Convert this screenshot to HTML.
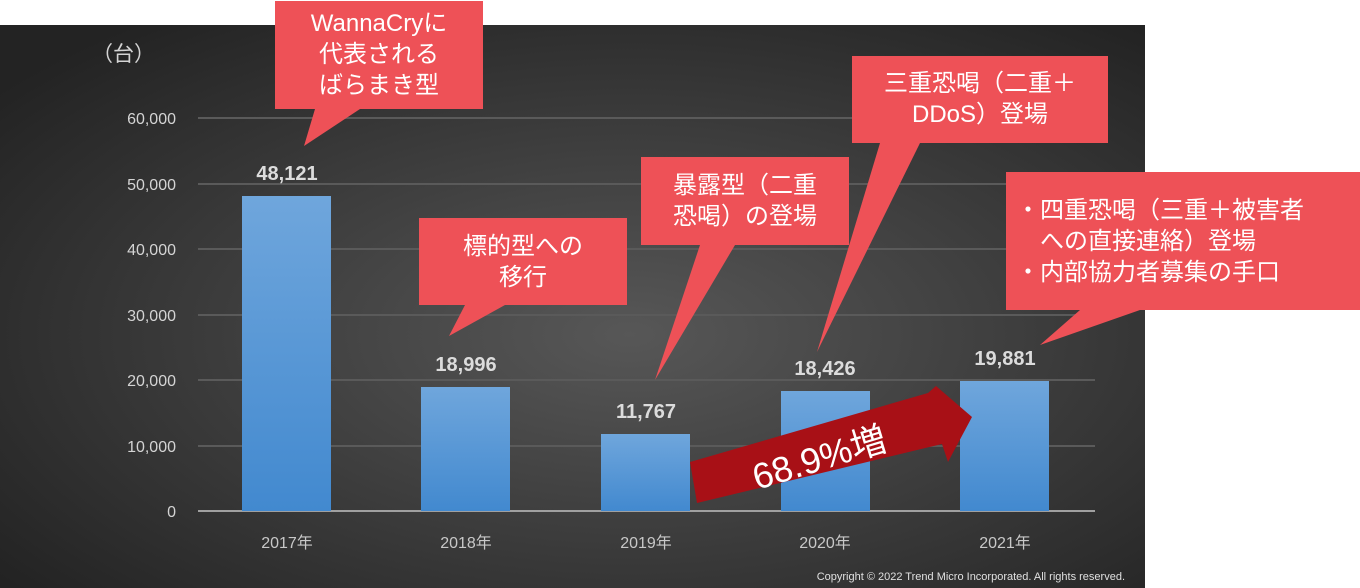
<!DOCTYPE html>
<html><head><meta charset="utf-8"><style>
html,body{margin:0;padding:0;background:#fff;}
svg{display:block;font-family:"Liberation Sans","Noto Sans CJK JP",sans-serif;}
</style></head><body>
<svg width="1360" height="588" viewBox="0 0 1360 588">
<defs>
<radialGradient id="bg" cx="0.55" cy="0.55" r="0.7">
<stop offset="0" stop-color="#575757"/><stop offset="1" stop-color="#232323"/>
</radialGradient>
<linearGradient id="bar" x1="0" y1="0" x2="0" y2="1">
<stop offset="0" stop-color="#6fa6dc"/><stop offset="1" stop-color="#4289cf"/>
</linearGradient>
</defs>
<rect x="0" y="25" width="1145" height="563" fill="url(#bg)"/>
<g stroke="#5a5a5a" stroke-width="2">
<line x1="198" y1="118" x2="1095" y2="118"/>
<line x1="198" y1="184" x2="1095" y2="184"/>
<line x1="198" y1="249" x2="1095" y2="249"/>
<line x1="198" y1="315" x2="1095" y2="315"/>
<line x1="198" y1="380" x2="1095" y2="380"/>
<line x1="198" y1="446" x2="1095" y2="446"/>
</g>
<line x1="198" y1="511" x2="1095" y2="511" stroke="#a0a0a0" stroke-width="2"/>
<g fill="#d4d4d4" font-size="16" text-anchor="end">
<text x="176" y="124">60,000</text><text x="176" y="190">50,000</text>
<text x="176" y="255">40,000</text><text x="176" y="321">30,000</text>
<text x="176" y="386">20,000</text><text x="176" y="452">10,000</text>
<text x="176" y="517">0</text>
</g>
<text x="92" y="61" fill="#d4d4d4" font-size="21">（台）</text>
<g fill="url(#bar)">
<rect x="242" y="196" width="89" height="315"/>
<rect x="421" y="387" width="89" height="124"/>
<rect x="601" y="434" width="89" height="77"/>
<rect x="781" y="391" width="89" height="120"/>
<rect x="960" y="381" width="89" height="130"/>
</g>
<g fill="#dcdcdc" font-size="20" font-weight="bold" text-anchor="middle">
<text x="287" y="180">48,121</text><text x="466" y="371">18,996</text>
<text x="646" y="418">11,767</text><text x="825" y="375">18,426</text>
<text x="1005" y="365">19,881</text>
</g>
<g fill="#c8c8c8" font-size="16" text-anchor="middle">
<text x="287" y="548">2017年</text><text x="466" y="548">2018年</text>
<text x="646" y="548">2019年</text><text x="825" y="548">2020年</text>
<text x="1005" y="548">2021年</text>
</g>
<text x="1125" y="580" fill="#e0e0e0" font-size="11" text-anchor="end">Copyright © 2022 Trend Micro Incorporated. All rights reserved.</text>
<polygon points="690,462 928,393 936,386 972,417 948,462 942,444 697,503" fill="#a81016"/>
<text x="0" y="0" fill="#fff" font-size="36" transform="translate(757,490) rotate(-17)">68.9%増</text>
<g fill="#ee5157">
<rect x="275" y="1" width="208" height="108"/><polygon points="315,109 360,109 304,146"/>
<rect x="419" y="218" width="208" height="87"/><polygon points="465,305 505,305 449,336"/>
<rect x="641" y="157" width="208" height="88"/><polygon points="700,245 735,245 655,380"/>
<rect x="852" y="56" width="256" height="87"/><polygon points="880,143 920,143 817,352"/>
<rect x="1006" y="172" width="354" height="138"/><polygon points="1080,310 1140,310 1040,345"/>
</g>
<g fill="#fff" font-size="24" text-anchor="middle">
<text x="379" y="31">WannaCryに</text><text x="379" y="62">代表される</text><text x="379" y="93">ばらまき型</text>
<text x="523" y="254">標的型への</text><text x="523" y="285">移行</text>
<text x="745" y="193">暴露型（二重</text><text x="745" y="224">恐喝）の登場</text>
<text x="980" y="91">三重恐喝（二重＋</text><text x="980" y="122">DDoS）登場</text>
</g>
<g fill="#fff" font-size="24">
<text x="1016" y="218">・四重恐喝（三重＋被害者</text>
<text x="1040" y="249">への直接連絡）登場</text>
<text x="1016" y="280">・内部協力者募集の手口</text>
</g>
</svg>
</body></html>
